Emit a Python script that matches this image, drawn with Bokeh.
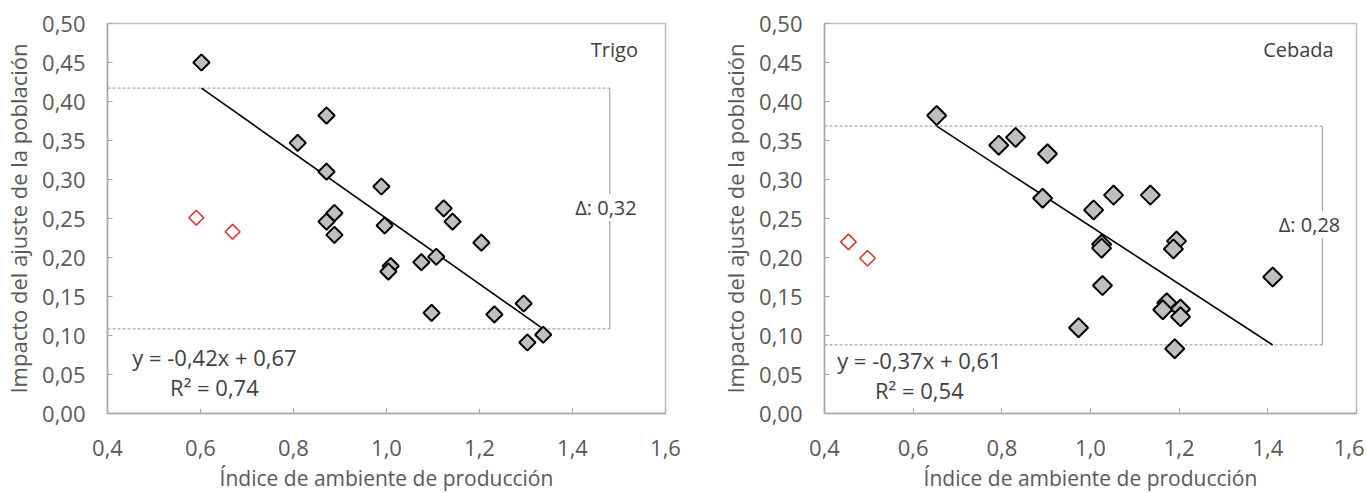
import numpy as np
from bokeh.plotting import figure
from bokeh.layouts import row
from bokeh.models import Range1d, FixedTicker, CustomJSTickFormatter, Label
from bokeh.embed import file_html
from bokeh.resources import INLINE

# ---------------- data ----------------
trigo_x = [0.602, 0.809, 0.871, 0.871, 0.871, 0.888, 0.888, 0.989, 0.996, 1.123, 1.142,
           1.204, 1.009, 1.004, 1.075, 1.107, 1.097, 1.232, 1.295, 1.303, 1.337]
trigo_y = [0.450, 0.347, 0.382, 0.310, 0.246, 0.257, 0.229, 0.291, 0.241, 0.263, 0.246,
           0.219, 0.189, 0.182, 0.194, 0.201, 0.129, 0.127, 0.141, 0.091, 0.101]
trigo_out_x = [0.591, 0.669]
trigo_out_y = [0.251, 0.233]
trigo_slope, trigo_intercept, trigo_r2 = -0.42, 0.67, 0.74
trigo_delta = 0.32

cebada_x = [0.653, 0.793, 0.831, 0.903, 0.892, 1.007, 1.052, 1.135, 1.194, 1.025, 1.025,
            1.187, 1.027, 1.411, 1.172, 1.163, 1.203, 1.203, 0.973, 1.190]
cebada_y = [0.382, 0.344, 0.354, 0.333, 0.276, 0.261, 0.280, 0.280, 0.221, 0.217, 0.212,
            0.211, 0.164, 0.175, 0.142, 0.133, 0.134, 0.124, 0.110, 0.083]
cebada_out_x = [0.454, 0.497]
cebada_out_y = [0.220, 0.199]
cebada_slope, cebada_intercept, cebada_r2 = -0.37, 0.61, 0.54
cebada_delta = 0.28

x_ticks = [0.4, 0.6, 0.8, 1.0, 1.2, 1.4, 1.6]
y_ticks = [0.0, 0.05, 0.10, 0.15, 0.20, 0.25, 0.30, 0.35, 0.40, 0.45, 0.50]
x_title = "Índice de ambiente de producción"
y_title = "Impacto del ajuste de la población"

FONT = "Open Sans"
GRAY_AX = "#A6A6A6"
TXT = "#595959"
DARK = "#404040"


def fmt(v, d):
    return f"{v:.{d}f}".replace(".", ",")


def panel(name, xs, ys, oxs, oys, slope, icpt, r2, delta, fw, mbr, msize, osize,
          bx, name_pos, delta_pos, eq_pos):
    p = figure(frame_width=fw, frame_height=390, min_border_left=100, min_border_right=mbr,
               min_border_top=23, min_border_bottom=89,
               x_range=Range1d(0.4, 1.6), y_range=Range1d(0, 0.5),
               output_backend="svg", toolbar_location=None)
    p.xgrid.visible = False
    p.ygrid.visible = False
    p.outline_line_color = "#BFBFBF"
    p.outline_line_width = 1.5
    p.background_fill_color = "white"
    p.border_fill_color = "white"

    p.xaxis.ticker = FixedTicker(ticks=x_ticks)
    p.yaxis.ticker = FixedTicker(ticks=y_ticks)
    p.xaxis.formatter = CustomJSTickFormatter(code="return tick.toFixed(1).replace('.', ',');")
    p.yaxis.formatter = CustomJSTickFormatter(code="return tick.toFixed(2).replace('.', ',');")
    for ax in (p.xaxis, p.yaxis):
        ax.axis_line_color = GRAY_AX
        ax.axis_line_width = 1.5
        ax.major_tick_line_color = GRAY_AX
        ax.major_tick_in = 5
        ax.major_tick_out = 0
        ax.minor_tick_line_color = None
        ax.major_label_text_font = FONT
        ax.major_label_text_font_size = "22px"
        ax.major_label_text_color = TXT
        ax.axis_label_text_font = FONT
        ax.axis_label_text_font_style = "normal"
        ax.axis_label_text_color = TXT
    p.xaxis.axis_label_text_font_size = "21px"
    p.yaxis.axis_label_text_font_size = "22px"
    p.xaxis.major_label_standoff = 26
    p.yaxis.major_label_standoff = 22
    p.xaxis.axis_label = x_title
    p.yaxis.axis_label = y_title
    p.xaxis.axis_label_standoff = 5
    p.yaxis.axis_label_standoff = 6

    # trend line and bracket
    x0, x1 = min(xs), max(xs)
    y0, y1 = slope * x0 + icpt, slope * x1 + icpt
    p.line([0.4, bx], [y0, y0], line_color=GRAY_AX, line_width=1.3, line_dash="3 2")
    p.line([0.4, bx], [y1, y1], line_color=GRAY_AX, line_width=1.3, line_dash="3 2")
    p.line([bx, bx], [y0, y1], line_color=GRAY_AX, line_width=1.2)
    p.line([x0, x1], [y0, y1], line_color="black", line_width=1.6)

    p.scatter(xs, ys, marker="square", angle=np.pi / 4, size=msize,
              fill_color="#BFBFBF", line_color="black", line_width=2)
    p.scatter(oxs, oys, marker="square", angle=np.pi / 4, size=osize,
              fill_color="white", line_color="#D03A3A", line_width=1.6)

    p.add_layout(Label(x=name_pos[0], y=name_pos[1], text=name, text_align="center",
                       text_baseline="middle", text_font=FONT, text_font_size="20px",
                       text_color=DARK))
    p.add_layout(Label(x=delta_pos[0], y=delta_pos[1], text="Δ: " + fmt(delta, 2),
                       text_align="center", text_baseline="middle", text_font=FONT,
                       text_font_size="20px", text_color=DARK,
                       background_fill_color="white"))
    sign = "+" if icpt >= 0 else "-"
    eq = f"y = {fmt(slope, 2)}x {sign} {fmt(abs(icpt), 2)}"
    p.add_layout(Label(x=eq_pos[0], y=eq_pos[1], text=eq, text_align="center",
                       text_baseline="middle", text_font=FONT, text_font_size="22px",
                       text_color=DARK))
    p.add_layout(Label(x=eq_pos[0], y=eq_pos[1] - 0.038, text="R² = " + fmt(r2, 2),
                       text_align="center", text_baseline="middle", text_font=FONT,
                       text_font_size="22px", text_color=DARK))
    return p


p1 = panel("Trigo", trigo_x, trigo_y, trigo_out_x, trigo_out_y,
           trigo_slope, trigo_intercept, trigo_r2, trigo_delta,
           558, 52, 11.5, 10.5, 1.48, (1.49, 0.467), (1.472, 0.264), (0.630, 0.072))
p2 = panel("Cebada", cebada_x, cebada_y, cebada_out_x, cebada_out_y,
           cebada_slope, cebada_intercept, cebada_r2, cebada_delta,
           532, 8, 13.5, 11, 1.523, (1.469, 0.467), (1.494, 0.242), (0.614, 0.068))

layout = row(p1, p2)
open("out.html", "w").write(file_html(layout, INLINE))
